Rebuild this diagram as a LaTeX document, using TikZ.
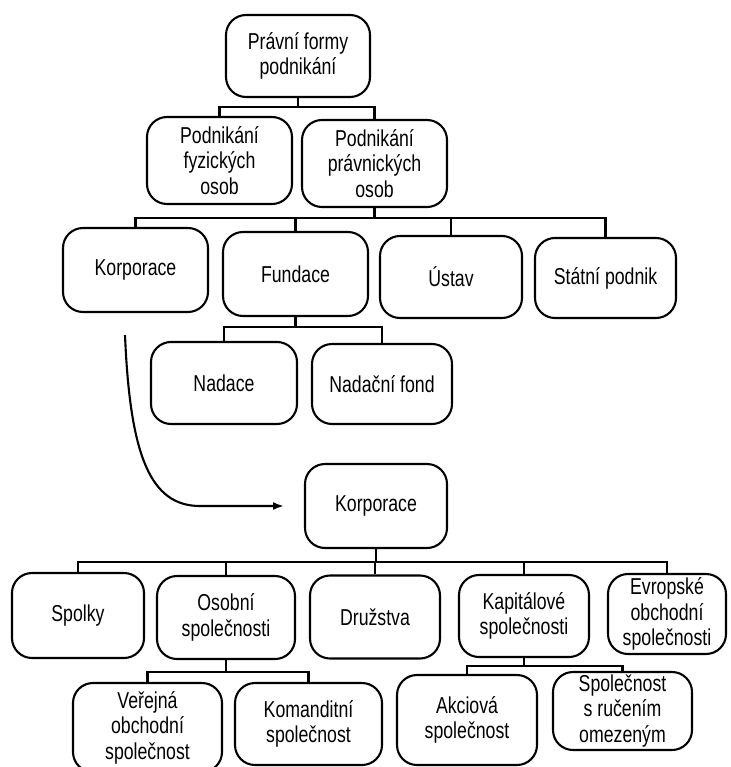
\documentclass[tikz,border=0pt]{standalone}
\usepackage{fontspec}
\setmainfont{Liberation Sans}[FakeStretch=0.77]
\usetikzlibrary{arrows.meta}
\begin{document}
\begin{tikzpicture}[x=1pt,y=-1pt,
  box/.style={draw, rounded corners=20pt, line width=2.1pt, align=center,
    inner sep=0pt, font=\fontsize{23}{25.5}\selectfont},
  conn/.style={draw, line width=2.1pt},
  arr/.style={line width=2.1pt, -{Latex[length=11pt,width=8pt]}}]
\useasboundingbox (0,0) rectangle (730,767);
% level 1
\node[box, minimum width=144pt, minimum height=82pt] (top) at (298,56) {Právní formy\\podnikání};
% level 2
\node[box, minimum width=145pt, minimum height=87pt] (pfo) at (219.5,160.5) {Podnikání\\fyzických\\osob};
\node[box, minimum width=145pt, minimum height=87pt] (ppo) at (374.5,163.5) {Podnikání\\právnických\\osob};
% level 3
\node[box, minimum width=145pt, minimum height=84pt] (korp) at (135.5,270) {Korporace};
\node[box, minimum width=145pt, minimum height=84pt] (fund) at (295.5,274) {Fundace};
\node[box, minimum width=142pt, minimum height=82pt] (ustav) at (451,277) {Ústav};
\node[box, minimum width=141pt, minimum height=80pt] (statni) at (605.5,278) {Státní podnik};
% level 4
\node[box, minimum width=146pt, minimum height=82pt] (nadace) at (224,383) {Nadace};
\node[box, minimum width=140pt, minimum height=80pt] (fond) at (382,384) {Nadační fond};
% corporation tree
\node[box, minimum width=142pt, minimum height=84pt] (korp2) at (376,506) {Korporace};
\node[box, minimum width=132pt, minimum height=85pt] (spolky) at (78,615.5) {Spolky};
\node[box, minimum width=138pt, minimum height=83pt] (osobni) at (226,617.5) {Osobní\\společnosti};
\node[box, minimum width=130pt, minimum height=83pt] (druz) at (375,617) {Družstva};
\node[box, minimum width=130pt, minimum height=82pt] (kap) at (524,616) {Kapitálové\\společnosti};
\node[box, minimum width=118pt, minimum height=80pt] (evr) at (667,614) {Evropské\\obchodní\\společnosti};
\node[box, minimum width=149pt, minimum height=89pt] (ver) at (147.5,727.5) {Veřejná\\obchodní\\společnost};
\node[box, minimum width=147pt, minimum height=82pt] (kom) at (308.5,724) {Komanditní\\společnost};
\node[box, minimum width=140pt, minimum height=90pt] (akc) at (467,720) {Akciová\\společnost};
\node[box, minimum width=139pt, minimum height=78pt] (sro) at (622.5,711) {Společnost\\s ručením\\omezeným};
% bars
\coordinate (b1) at (0,107);
\coordinate (b2) at (0,218);
\coordinate (b3) at (0,327);
\coordinate (b4) at (0,562);
\coordinate (b5) at (0,672);
\coordinate (b6) at (0,666);
\newcommand\treelink[3]{\draw[conn] (#1.south) -- (#1.south |- #3) -| (#2.north);}
\treelink{top}{pfo}{b1}
\treelink{top}{ppo}{b1}
\treelink{ppo}{korp}{b2}
\treelink{ppo}{fund}{b2}
\treelink{ppo}{ustav}{b2}
\treelink{ppo}{statni}{b2}
\treelink{fund}{nadace}{b3}
\treelink{fund}{fond}{b3}
\treelink{korp2}{spolky}{b4}
\treelink{korp2}{osobni}{b4}
\treelink{korp2}{druz}{b4}
\treelink{korp2}{kap}{b4}
\treelink{korp2}{evr}{b4}
\treelink{osobni}{ver}{b5}
\treelink{osobni}{kom}{b5}
\treelink{kap}{akc}{b6}
\treelink{kap}{sro}{b6}
% curved arrow
\coordinate (cstart) at (125,335);
\coordinate (cend) at (284,506);
\draw[arr] (cstart) .. controls (130,455) and (150,506) .. (200,506) -- (cend);
\end{tikzpicture}
\end{document}
